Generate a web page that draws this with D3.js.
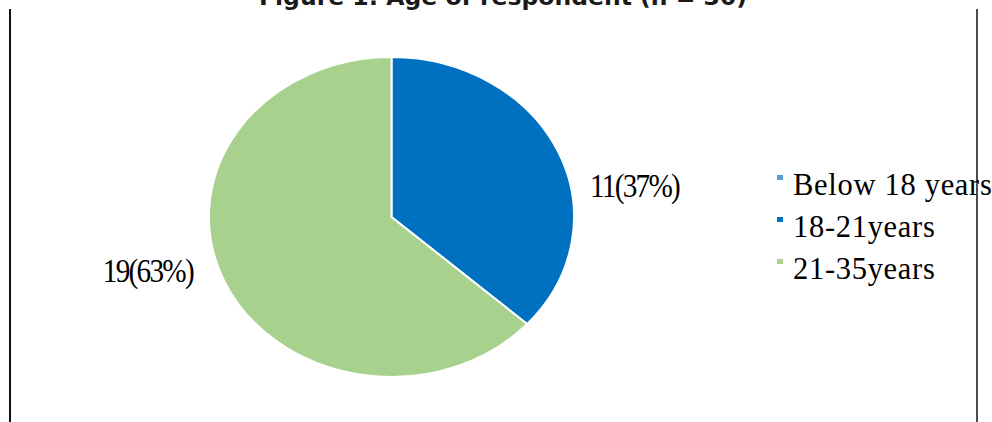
<!DOCTYPE html>
<html>
<head>
<meta charset="utf-8">
<script src="https://cdn.jsdelivr.net/npm/d3@7"></script>
<style>
  html, body { margin: 0; padding: 0; background: #fff; }
  svg { display: block; }
</style>
</head>
<body>
<svg id="chart" width="992" height="422"></svg>
<script>
// Respondents by age group (n = 30)
const titleText = "Figure 1: Age of respondent (n = 30)";
const categories = ["Below 18 years", "18-21years", "21-35years"];
const counts = [0, 11, 19];
const colors = ["#5B9BD5", "#0070C0", "#A9D18E"];

const W = 992, H = 422;
const svg = d3.select("#chart");

// Pie geometry: the plot area is wider than tall, so the pie is an ellipse
const cx = 391.5, cy = 217, rx = 182.5, ry = 160;

const total = d3.sum(counts);
const data = categories.map((c, i) => ({ cat: c, value: counts[i], color: colors[i] }));

const pie = d3.pie().sort(null).value(d => d.value);
const arcs = pie(data);
const arc = d3.arc().innerRadius(0).outerRadius(rx);

const g = svg.append("g")
  .attr("transform", `translate(${cx},${cy}) scale(1,${ry / rx})`);

g.selectAll("path")
  .data(arcs.filter(a => a.data.value > 0))
  .join("path")
  .attr("d", arc)
  .attr("fill", d => d.data.color)
  .attr("stroke", "#fff")
  .attr("stroke-width", 2)
  .attr("vector-effect", "non-scaling-stroke");

// Data labels outside the pie: "count(percent%)", tall and tightly packed
const labelFont = "'Liberation Serif', 'Times New Roman', serif";
arcs.filter(a => a.data.value > 0).forEach(a => {
  const mid = (a.startAngle + a.endAngle) / 2;
  const right = Math.sin(mid) > 0;
  const pct = Math.round(a.data.value / total * 100);
  const x = right ? cx + rx + 16 : cx - rx - 16;
  const y = right ? cy - 20 : cy + 65;
  svg.append("text")
    .attr("transform", `translate(${x},${y}) scale(0.86,1)`)
    .attr("text-anchor", right ? "start" : "end")
    .attr("font-family", labelFont)
    .attr("font-size", 34)
    .attr("letter-spacing", -2)
    .attr("fill", "#000")
    .text(`${a.data.value}(${pct}%)`);
});

// Legend
const legend = svg.append("g").attr("transform", "translate(777,0)");
const rowY = d3.scaleOrdinal().domain(categories).range([195, 237, 279]);
categories.forEach((c, i) => {
  legend.append("rect")
    .attr("x", 0)
    .attr("y", rowY(c) - 20)
    .attr("width", 6)
    .attr("height", 5)
    .attr("fill", colors[i]);
  legend.append("text")
    .attr("x", 16)
    .attr("y", rowY(c))
    .attr("font-family", labelFont)
    .attr("font-size", 30.5)
    .attr("letter-spacing", 0.7)
    .attr("fill", "#000")
    .text(c);
});

// Title, mostly clipped at the top edge
svg.append("text")
  .attr("x", 503)
  .attr("y", 5)
  .attr("text-anchor", "middle")
  .attr("font-family", "'DejaVu Sans', Verdana, sans-serif")
  .attr("font-weight", "bold")
  .attr("font-size", 23.5)
  .attr("fill", "#1a1a1a")
  .text(titleText);

// Side rules
svg.append("line")
  .attr("x1", 10).attr("x2", 10).attr("y1", 9).attr("y2", H)
  .attr("stroke", "#111").attr("stroke-width", 2);
svg.append("line")
  .attr("x1", 977).attr("x2", 977).attr("y1", 9).attr("y2", H)
  .attr("stroke", "#111").attr("stroke-width", 1.5);
</script>
</body>
</html>
